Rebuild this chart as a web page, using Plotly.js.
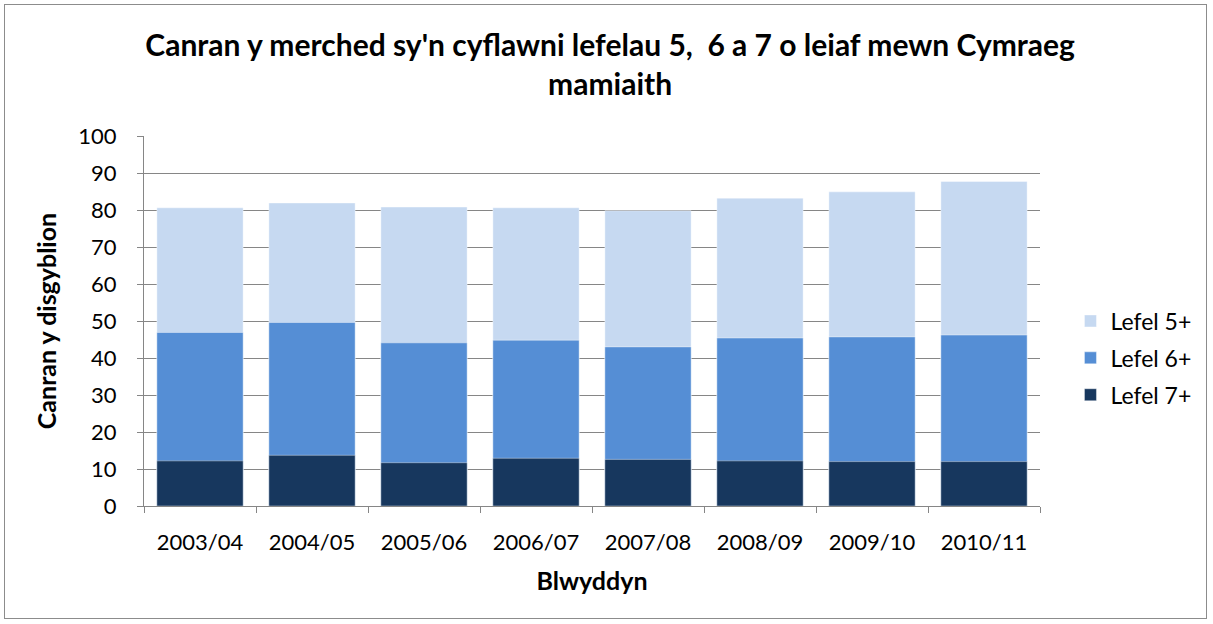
<!DOCTYPE html>
<html>
<head>
<meta charset="utf-8">
<script src="https://cdn.plot.ly/plotly-3.0.1.min.js"></script>
<style>
html,body{margin:0;padding:0;background:#fff;}
#frame{position:absolute;left:4px;top:4px;width:1203px;height:615px;border:1px solid #8c8c8c;box-sizing:border-box;pointer-events:none;}
#chart{position:absolute;left:0;top:0;width:1213px;height:624px;}
</style>
</head>
<body>
<div id="chart"></div>
<div id="frame"></div>
<script>
const years = ["2003/04","2004/05","2005/06","2006/07","2007/08","2008/09","2009/10","2010/11"];
const lefel5 = [80.6, 81.9, 80.8, 80.6, 79.8, 83.2, 84.9, 87.7];
const lefel6 = [46.9, 49.6, 44.1, 44.8, 43.0, 45.4, 45.7, 46.2];
const lefel7 = [12.2, 13.7, 11.7, 12.9, 12.6, 12.2, 12.0, 12.0];
const seriesNames = ["Lefel 5+","Lefel 6+","Lefel 7+"];
const colors = ["#C6D9F1","#558ED5","#17375E"];
const FONT = "Lato, 'Open Sans', sans-serif";

const traces = [lefel5, lefel6, lefel7].map((vals, i) => ({
  type: "bar",
  name: seriesNames[i],
  x: years,
  y: vals,
  legendgroup: "g" + i,
  marker: {color: colors[i], line: {color: "rgba(255,255,255,0.4)", width: 1}},
  hoverinfo: "x+y+name"
}));

const layout = {
  width: 1213, height: 624,
  margin: {l: 144, r: 173, t: 136, b: 118},
  paper_bgcolor: "rgba(0,0,0,0)",
  plot_bgcolor: "#fff",
  barmode: "overlay",
  bargap: 0.23,
  font: {family: FONT, color: "#000", size: 21},
  title: {
    text: "<b>Canran y merched sy'n cyflawni lefelau 5,  6 a 7 o leiaf mewn Cymraeg<br>mamiaith</b>",
    font: {family: FONT, size: 30, color: "#000"},
    x: 0.503, xanchor: "center",
    y: 1 - 56/624, yanchor: "top", yref: "container"
  },
  xaxis: {
    type: "category",
    showline: true, linecolor: "#868686", linewidth: 1,
    ticks: "outside", tickson: "boundaries", ticklen: 6, tickcolor: "#868686",
    tickfont: {size: 22, family: FONT},
    ticklabelstandoff: 17,
    title: {text: "<b>Blwyddyn</b>", font: {size: 25, family: FONT}, standoff: 18},
    showgrid: false
  },
  yaxis: {
    range: [0, 100], dtick: 10,
    showline: true, linecolor: "#868686", linewidth: 1,
    ticks: "outside", ticklen: 6, tickcolor: "#868686",
    gridcolor: "#868686", gridwidth: 1,
    tickfont: {size: 22, family: FONT},
    ticklabelstandoff: 16,
    title: {text: "<b>Canran y disgyblion</b>", font: {size: 25, family: FONT}, standoff: 14},
    zeroline: false
  },
  legend: {
    x: 1.034, xanchor: "left", y: 0.40, yanchor: "middle",
    font: {size: 23, family: FONT},
    traceorder: "grouped", tracegroupgap: 4,
    bgcolor: "rgba(0,0,0,0)"
  },
  showlegend: true
};

Plotly.newPlot("chart", traces, layout, {displayModeBar: false, staticPlot: true});
</script>
</body>
</html>
